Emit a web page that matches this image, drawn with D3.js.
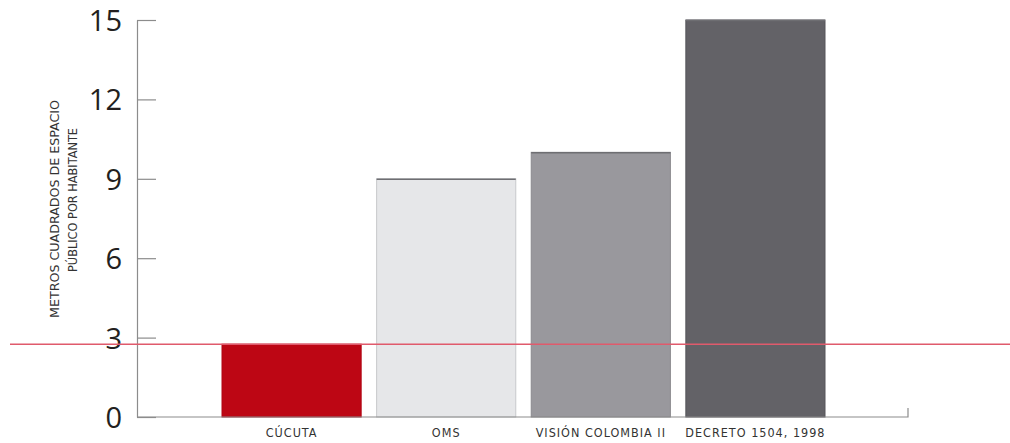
<!DOCTYPE html>
<html>
<head>
<meta charset="utf-8">
<script src="https://cdn.jsdelivr.net/npm/d3@7"></script>
<style>
  html, body { margin: 0; padding: 0; background: #fff; }
  svg { display: block; }
  .ytick text { font-family: "Open Sans", sans-serif; font-size: 29px; fill: #231f20; }
  .small { font-family: "Liberation Sans Narrow", "DejaVu Sans Condensed", sans-serif; font-size: 12.5px; fill: #333; letter-spacing: 1px; }
</style>
</head>
<body>
<svg id="chart" width="1010" height="443"></svg>
<script>
// ---- data ----
const categories = ["CÚCUTA", "OMS", "VISIÓN COLOMBIA II", "DECRETO 1504, 1998"];
const values = [2.75, 9, 10, 15];
const yTicks = [0, 3, 6, 9, 12, 15];
const referenceValue = 2.75;
const yTitle = ["METROS CUADRADOS DE ESPACIO", "PÚBLICO POR HABITANTE"];

// ---- styles ----
const palette = ["#bd0614", "#e6e7e9", "#99989d", "#636267"];
const strokes = ["#b00512", "#c8c9cc", "#8a898e", "#56555a"];

const svg = d3.select("#chart");
const axisX = 137, baseY = 417, topY = 20;

const y = d3.scaleLinear().domain([0, 15]).range([baseY, topY]);
const x = d3.scaleBand().domain(categories).range([222, 825]).paddingInner(0.1).paddingOuter(0);

// bars
svg.selectAll("rect.bar").data(categories).join("rect")
  .attr("class", "bar")
  .attr("x", d => x(d))
  .attr("width", x.bandwidth())
  .attr("y", (d, i) => y(values[i]))
  .attr("height", (d, i) => y(0) - y(values[i]))
  .attr("fill", (d, i) => palette[i])
  .attr("stroke", (d, i) => strokes[i])
  .attr("stroke-width", 1);

// top edge accent
svg.selectAll("line.topedge").data(categories).join("line")
  .attr("class", "topedge")
  .attr("x1", d => x(d)).attr("x2", d => x(d) + x.bandwidth())
  .attr("y1", (d, i) => y(values[i]) + 0.5).attr("y2", (d, i) => y(values[i]) + 0.5)
  .attr("stroke", (d, i) => i === 0 ? "none" : "#6e6e72")
  .attr("stroke-width", 1.5);

// y axis
const yAxis = d3.axisLeft(y).tickValues(yTicks).tickSize(-19).tickSizeOuter(0).tickPadding(15);
const gy = svg.append("g").attr("class", "ytick").attr("transform", `translate(${axisX},0)`).call(yAxis);
gy.select(".domain").attr("stroke", "#8c8c8c").attr("stroke-width", 1.2);
gy.selectAll(".tick line").attr("stroke", "#8c8c8c").attr("stroke-width", 1.2);
gy.selectAll(".tick text").attr("dy", "0.36em");

// x axis line
svg.append("path")
  .attr("d", `M${axisX},${baseY}H908V${baseY - 9}`)
  .attr("fill", "none").attr("stroke", "#8c8c8c").attr("stroke-width", 1.2);

// x labels
svg.selectAll("text.xlab").data(categories).join("text")
  .attr("class", "small xlab")
  .attr("x", d => x(d) + x.bandwidth() / 2)
  .attr("y", 437)
  .attr("text-anchor", "middle")
  .text(d => d);

// y title (two rotated lines)
const titlePos = [{cx: 59, cy: 209, len: 218}, {cx: 77, cy: 200, len: 144}];
svg.selectAll("text.ytitle").data(yTitle).join("text")
  .attr("class", "small ytitle")
  .style("letter-spacing", "0px")
  .attr("transform", (d, i) => `translate(${titlePos[i].cx},${titlePos[i].cy}) rotate(-90)`)
  .attr("text-anchor", "middle")
  .attr("textLength", (d, i) => titlePos[i].len)
  .attr("lengthAdjust", "spacingAndGlyphs")
  .text(d => d);

// reference line
svg.append("line")
  .attr("x1", 10).attr("x2", 1010)
  .attr("y1", y(referenceValue)).attr("y2", y(referenceValue))
  .attr("stroke", "#e05a6c").attr("stroke-width", 1.5);
</script>
</body>
</html>
